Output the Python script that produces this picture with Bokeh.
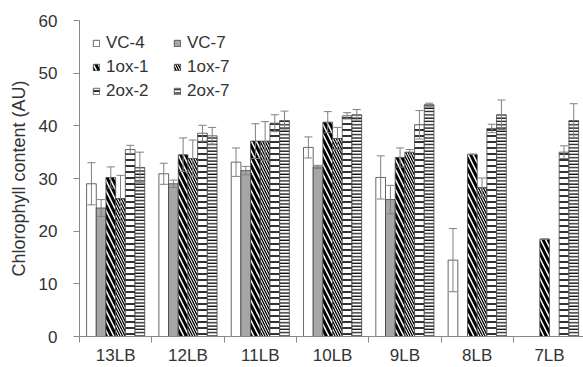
import numpy as np
from bokeh.plotting import figure
from bokeh.models import (ColumnDataSource, FixedTicker, Legend, LegendItem,
                          Whisker, TeeHead, Range1d)
from bokeh.transform import dodge
from bokeh.embed import file_html
from bokeh.resources import INLINE

nan = float("nan")

categories = ["13LB", "12LB", "11LB", "10LB", "9LB", "8LB", "7LB"]
series_names = ["VC-4", "VC-7", "1ox-1", "1ox-7", "2ox-2", "2ox-7"]

vc4 = [29.0, 30.9, 33.1, 35.9, 30.2, 14.5, nan]
vc4_err = [4.0, 2.0, 2.7, 2.0, 4.1, 6.0, nan]
vc7 = [24.4, 29.0, 31.5, 32.2, 26.0, nan, nan]
vc7_err = [1.6, 0.7, 0.8, 0.3, 2.7, nan, nan]
ox1_1 = [30.2, 34.5, 37.1, 40.7, 34.0, 34.6, 18.5]
ox1_1_err = [2.0, 3.2, 3.3, 2.0, 1.8, 0.0, 0.0]
ox1_7 = [26.2, 33.8, 37.1, 37.6, 35.0, 28.3, nan]
ox1_7_err = [4.4, 3.5, 3.7, 2.1, 0.5, 1.8, nan]
ox2_2 = [35.5, 38.6, 40.5, 41.9, 40.2, 39.5, 35.0]
ox2_2_err = [0.8, 1.5, 1.6, 0.6, 2.7, 0.8, 1.2]
ox2_7 = [32.1, 38.1, 41.0, 42.1, 44.0, 42.1, 41.0]
ox2_7_err = [2.9, 1.6, 1.8, 1.0, 0.3, 2.8, 3.2]

y_ticks = [0, 10, 20, 30, 40, 50, 60]

values = [vc4, vc7, ox1_1, ox1_7, ox2_2, ox2_7]
errors = [vc4_err, vc7_err, ox1_1_err, ox1_7_err, ox2_2_err, ox2_7_err]

styles = [
    dict(fill_color="white", hatch_pattern=None),
    dict(fill_color="#a6a6a6", hatch_pattern=None),
    dict(fill_color="white", hatch_pattern="left_diagonal_line", hatch_scale=10, hatch_weight=3.0),
    dict(fill_color="white", hatch_pattern="left_diagonal_line", hatch_scale=5, hatch_weight=1.3),
    dict(fill_color="white", hatch_pattern="horizontal_line", hatch_scale=6, hatch_weight=1.6),
    dict(fill_color="white", hatch_pattern="horizontal_line", hatch_scale=3.3, hatch_weight=1.2),
]

FONT = "Liberation Sans"

p = figure(width=583, height=367, x_range=Range1d(0, 6.97), y_range=Range1d(0, 60),
           output_backend="svg", toolbar_location=None,
           min_border_left=79, min_border_top=20, min_border_bottom=31, min_border_right=0)
p.outline_line_color = None
p.xgrid.visible = False
p.ygrid.visible = False
p.background_fill_color = "white"
p.border_fill_color = "white"

bar_w = 0.134
items = []
for j, (name, vals, errs, st) in enumerate(zip(series_names, values, errors, styles)):
    off = (j - 2.5) * bar_w
    v = np.array(vals, dtype=float)
    e = np.array(errs, dtype=float)
    src = ColumnDataSource(dict(x=np.arange(len(categories)) + 0.5, top=v,
                                upper=v + e, lower=v - e))
    kw = dict(st)
    hp = kw.pop("hatch_pattern")
    if hp:
        kw["hatch_pattern"] = hp
        kw["hatch_color"] = "black"
    r = p.vbar(x=dodge("x", off), top="top", width=bar_w, source=src,
               line_color="#404040", line_width=0.8, **kw)
    items.append(LegendItem(label=name, renderers=[r]))
    w = Whisker(base=dodge("x", off), upper="upper", lower="lower", source=src,
                line_color="#808080", line_width=1, level="overlay",
                upper_head=TeeHead(size=8, line_color="#808080", line_width=1),
                lower_head=TeeHead(size=8, line_color="#808080", line_width=1))
    p.add_layout(w)

# axes
xa = p.xaxis[0]
xa.ticker = FixedTicker(ticks=[i + 0.5 for i in range(len(categories))],
                        minor_ticks=list(range(len(categories) + 1)))
xa.major_label_overrides = {i + 0.5: c for i, c in enumerate(categories)}
xa.major_tick_out = 0
xa.major_tick_in = 0
xa.minor_tick_out = 6
xa.minor_tick_in = 0
xa.minor_tick_line_color = "#888888"
xa.axis_line_color = "#888888"
xa.major_label_text_font = FONT
xa.major_label_text_font_size = "17px"
xa.major_label_text_color = "#333333"
xa.major_label_standoff = 3

ya = p.yaxis[0]
ya.ticker = FixedTicker(ticks=y_ticks, minor_ticks=[])
ya.major_tick_out = 6
ya.major_tick_in = 0
ya.major_tick_line_color = "#888888"
ya.axis_line_color = "#888888"
ya.major_label_text_font = FONT
ya.major_label_text_font_size = "17px"
ya.major_label_text_color = "#333333"
ya.major_label_standoff = 16
ya.axis_label = "Chlorophyll content (AU)"
ya.axis_label_text_font = FONT
ya.axis_label_text_font_size = "18px"
ya.axis_label_text_font_style = "normal"
ya.axis_label_text_color = "#333333"
ya.axis_label_standoff = 7

legend = Legend(items=items, location="top_left", orientation="horizontal", ncols=2,
                margin=8, padding=5, spacing=4, glyph_width=8, glyph_height=8,
                label_standoff=6, label_width=63, label_height=20,
                label_text_font=FONT, label_text_font_size="17px",
                label_text_color="#333333", border_line_alpha=0,
                background_fill_alpha=0)
p.add_layout(legend)

open("out.html", "w").write(file_html(p, INLINE))
